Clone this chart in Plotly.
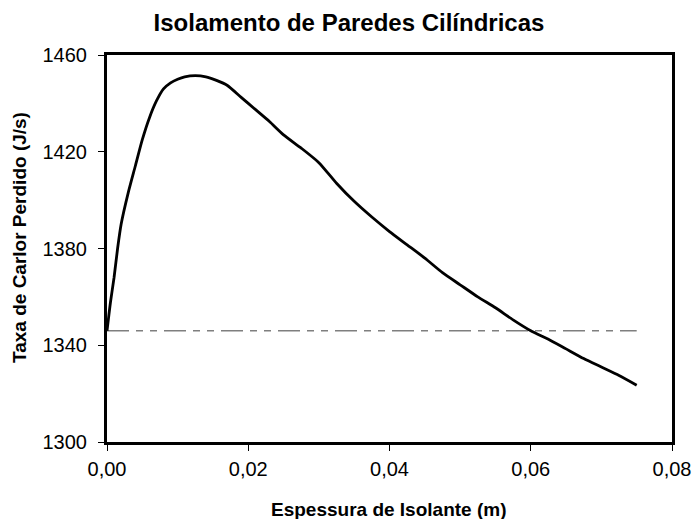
import plotly.graph_objects as go

# Data
espessura = [0.0, 0.0005, 0.001, 0.0015, 0.002, 0.003, 0.004, 0.005, 0.006, 0.007,
             0.008, 0.009, 0.010, 0.011, 0.0125, 0.014, 0.0155, 0.017, 0.019, 0.021,
             0.023, 0.025, 0.0275, 0.030, 0.0325, 0.035, 0.0375, 0.040, 0.0425, 0.045,
             0.0475, 0.050, 0.0525, 0.055, 0.0575, 0.060, 0.0625, 0.065, 0.0675, 0.070,
             0.0725, 0.075]
taxa_calor = [1346, 1358, 1368, 1380, 1390, 1403, 1414, 1425, 1434, 1441,
              1446, 1448.5, 1450, 1451, 1451.5, 1451, 1449.5, 1447.5, 1442.5, 1437.5,
              1432.5, 1427, 1421.5, 1415.5, 1407, 1399.5, 1393, 1387, 1381.5, 1376,
              1370, 1365, 1360, 1355.5, 1350.5, 1346, 1342.5, 1338.5, 1334.5, 1331,
              1327.5, 1323.5]
referencia_x = [0.0, 0.075]
referencia_y = [1346, 1346]

y_ticks = [1300, 1340, 1380, 1420, 1460]
x_ticks = [0.0, 0.02, 0.04, 0.06, 0.08]

FONT = "Liberation Sans, Arial, sans-serif"

W, H = 693, 519
L, R, T, B = 107, 21, 55, 77
PW, PH = W - L - R, H - T - B

fig = go.Figure()
fig.add_trace(go.Scatter(x=referencia_x, y=referencia_y, mode="lines",
                         line=dict(color="#7f7f7f", width=1.5,
                                   dash="22px,7px,7px,7px,7px,7px"),
                         hoverinfo="skip", showlegend=False))
fig.add_trace(go.Scatter(x=espessura, y=taxa_calor, mode="lines",
                         line=dict(color="black", width=2.8, shape="spline", smoothing=0.6),
                         showlegend=False))

fig.update_layout(
    width=W, height=H,
    margin=dict(l=L, r=R, t=T, b=B, autoexpand=False),
    paper_bgcolor="white", plot_bgcolor="white",
    separators=",.",
    font=dict(family=FONT, color="black", size=20),
    title=dict(text="<b>Isolamento de Paredes Cilíndricas</b>",
               x=349 / W, xref="container", xanchor="center",
               y=1 - 23 / H, yref="container", yanchor="middle",
               font=dict(family=FONT, size=24, color="black")),
    annotations=[
        dict(text="<b>Espessura de Isolante (m)</b>", xref="paper", yref="paper",
             x=(388 - L) / PW, y=-(509 - (T + PH)) / PH, xanchor="center", yanchor="middle",
             showarrow=False, font=dict(family=FONT, size=19, color="black")),
        dict(text="<b>Taxa de Carlor Perdido (J/s)</b>", xref="paper", yref="paper",
             x=(20 - L) / PW, y=1 - (238 - T) / PH, xanchor="center", yanchor="middle",
             textangle=-90, showarrow=False,
             font=dict(family=FONT, size=19, color="black")),
    ],
)

fig.update_xaxes(range=[0, 0.08], tickvals=x_ticks, tickformat=".2f",
                 automargin=False,
                 showgrid=False, zeroline=False,
                 showline=True, linecolor="black", linewidth=3, mirror=True,
                 ticks="outside", ticklen=6, tickcolor="black", tickwidth=1,
                 ticklabelstandoff=1,
                 tickfont=dict(family=FONT, size=20, color="black"))
fig.update_yaxes(range=[1300, 1460], tickvals=y_ticks,
                 automargin=False,
                 showgrid=False, zeroline=False,
                 showline=True, linecolor="black", linewidth=3, mirror=True,
                 ticks="outside", ticklen=6, tickcolor="black", tickwidth=1,
                 ticklabelstandoff=7,
                 tickfont=dict(family=FONT, size=20, color="black"))

fig.write_html("out.html", config={"displayModeBar": False},
               post_script="document.body.style.margin='0';document.body.style.overflow='hidden';")
